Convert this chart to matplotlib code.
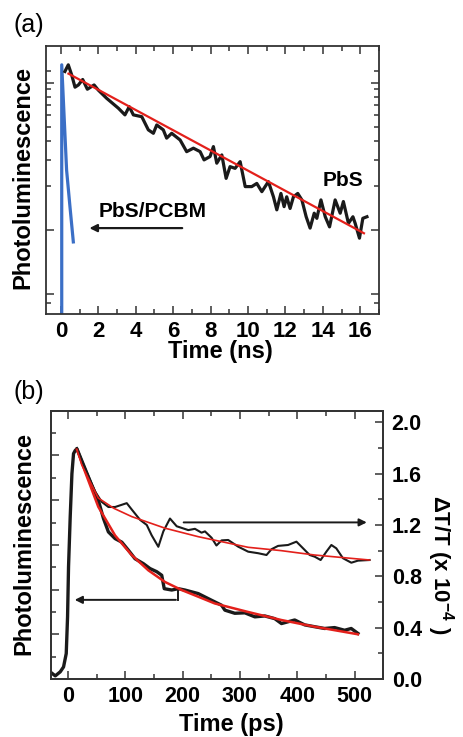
import numpy as np
import matplotlib
matplotlib.use("Agg")
import matplotlib.pyplot as plt
from matplotlib.ticker import MultipleLocator, FixedLocator, NullFormatter

plt.rcParams['font.family'] = ['Liberation Sans', 'DejaVu Sans']
plt.rcParams['mathtext.fontset'] = 'custom'
plt.rcParams['mathtext.rm'] = 'Liberation Sans:bold'
plt.rcParams['mathtext.default'] = 'rm'

# (a) PbS PL decay (ns, log scale)
pbs_t = [0.21, 0.39, 0.57, 0.75, 0.93, 1.16, 1.41, 1.77, 1.99, 2.44, 3.07, 3.42, 3.65, 3.87, 4.32,
         4.67, 4.94, 5.12, 5.47, 5.65, 5.92, 6.37, 6.72, 7.08, 7.44, 7.65, 7.97, 8.15, 8.33, 8.60,
         8.83, 9.04, 9.31, 9.58, 9.85, 10.2, 10.47, 10.74, 11.09, 11.36, 11.54, 11.76, 11.93, 12.07,
         12.25, 12.43, 12.66, 12.88, 13.11, 13.32, 13.54, 13.68, 13.9, 14.13, 14.36, 14.66, 14.93,
         15.1, 15.37, 15.61, 15.73, 15.96, 16.14, 16.36]
pbs_pl = [11.9, 13.2, 11.3, 9.31, 9.64, 10.5, 9.02, 9.64, 8.91, 7.83, 6.70, 6.04, 6.87, 6.04, 5.87,
          4.78, 4.53, 5.16, 4.78, 4.20, 4.53, 4.08, 3.40, 3.59, 3.40, 2.99, 3.15, 3.68, 2.84, 3.23,
          2.24, 2.69, 2.62, 2.91, 1.97, 1.97, 2.07, 1.82, 2.13, 1.68, 1.37, 1.77, 1.44, 1.68,
          1.40, 1.68, 1.77, 1.60, 1.23, 1.03, 1.30, 1.20, 1.60, 1.23, 1.05, 1.60, 1.30,
          1.56, 1.11, 1.23, 1.11, 0.88, 1.20, 1.23]
pbs_fit_t = [0.4, 16.2]
pbs_fit_pl = [11.5, 0.95]
pcbm_t = [0.04, 0.04, 0.30, 0.48, 0.66]
pcbm_pl = [0.2, 13.2, 2.55, 1.44, 0.83]

# (b) PL (left axis) and transient absorption (right axis), ps
pl_t = [-28, -22, -13.4, -7.6, -2.9, -0.6, 1.1, 4, 7, 9.8, 12.7, 15.7, 30, 41.7, 53,
        62, 70.6, 82.3, 94, 105.5, 117, 131.6, 143.2, 154.9, 163.6, 168, 181, 192.5, 204, 227.3,
        250.6, 268, 273.7, 291, 308.5, 326, 343.3, 360.7, 372.4, 395.5, 413, 430, 447.7, 465, 482.5,
        494, 505.7]
pl_val = [0.13, 0.07, 0.16, 0.27, 0.57, 1.39, 2.51, 3.62, 4.59, 5.04, 5.11, 5.15, 4.70, 4.33, 4.0,
          3.59, 3.29, 3.14, 3.06, 2.88, 2.69, 2.58, 2.47, 2.40, 2.32, 2.02, 1.99, 2.02, 1.99, 1.91,
          1.76, 1.65, 1.54, 1.47, 1.48, 1.39, 1.41, 1.35, 1.24, 1.32, 1.21, 1.17, 1.13, 1.15, 1.09,
          1.13, 1.02]
pl_fit_t = [15.7, 30, 53, 82.3, 111.4, 140.3, 169.3, 198.3, 227.3, 256, 314, 372, 430, 505.7]
pl_fit_val = [5.14, 4.63, 3.85, 3.21, 2.77, 2.43, 2.17, 1.99, 1.84, 1.69, 1.50, 1.32, 1.17, 1.0]

ta_t = [15.7, 30, 47.5, 59, 70.6, 82.3, 102.6, 111.4, 125.8, 137.5, 146, 157.7, 166.4, 178, 189.7,
        209.9, 221.5, 233, 239, 250.6, 259, 268, 279.5, 296.9, 314.3, 331.7, 346.3, 355, 366.5, 383.9,
        398.5, 407.2, 421.6, 430.3, 440.7, 450.7, 459.4, 468, 479.6, 494.2, 505.7, 526]
ta_val = [1.80, 1.64, 1.46, 1.38, 1.34, 1.34, 1.37, 1.32, 1.24, 1.20, 1.12, 1.03, 1.15, 1.25, 1.19,
          1.16, 1.17, 1.14, 1.15, 1.10, 1.04, 1.08, 1.083, 1.031, 0.992, 0.98, 0.966, 1.011, 1.037, 1.044,
          1.07, 1.031, 0.966, 0.953, 0.927, 0.992, 1.044, 1.018, 0.941, 0.906, 0.922, 0.927]
ta_fit_t = [15.7, 24, 36, 53, 80, 111.4, 169.3, 227, 268, 314.3, 372, 430, 526]
ta_fit_val = [1.79, 1.67, 1.56, 1.41, 1.33, 1.265, 1.175, 1.109, 1.07, 1.026, 1.0, 0.966, 0.927]

RED = '#e3201b'
BLUE = '#3b6fc6'
INK = '#1a1a1a'

fig = plt.figure(figsize=(4.63, 7.37), dpi=100)

def style_ticks(ax):
    ax.tick_params(which='both', direction='in', width=1.1, color='#333333')
    ax.tick_params(which='major', length=6)
    ax.tick_params(which='minor', length=3.5)
    for s in ax.spines.values():
        s.set_linewidth(1.3)
        s.set_color('#333333')

# ---- panel (a)
ax1 = fig.add_axes([0.0994, 0.5739, 0.719, 0.3636])
ax1.set_yscale('log')
ax1.plot(pcbm_t, pcbm_pl, color=BLUE, lw=2.3, zorder=2)
ax1.plot(pbs_t, pbs_pl, color=INK, lw=2.3, zorder=3)
ax1.plot(pbs_fit_t, pbs_fit_pl, color=RED, lw=1.6, zorder=4)
ax1.set_xlim(-0.8, 17.0)
ax1.set_ylim(0.269, 17.7)
ax1.xaxis.set_major_locator(MultipleLocator(2))
ax1.xaxis.set_minor_locator(MultipleLocator(1))
ax1.yaxis.set_major_locator(FixedLocator([0.368, 1, 10]))
ax1.yaxis.set_minor_locator(FixedLocator([0.318, 2, 3, 4, 5, 6, 7, 8, 9, 12]))
ax1.yaxis.set_major_formatter(NullFormatter())
ax1.yaxis.set_minor_formatter(NullFormatter())
ax1.tick_params(which='both', top=True, right=True)
style_ticks(ax1)
ax1.tick_params(axis='x', labelsize=16, pad=5)
for lab in ax1.get_xticklabels():
    lab.set_fontweight('bold')
ax1.text(15.1, 2.18, 'PbS', fontsize=15, fontweight='bold', ha='center', va='center')
ax1.text(4.9, 1.33, 'PbS/PCBM', fontsize=15, fontweight='bold', ha='center', va='center')
ax1.annotate('', xy=(1.37, 1.03), xytext=(6.63, 1.03),
             arrowprops=dict(arrowstyle='-|>', lw=1.6, color=INK, mutation_scale=11))

# ---- panel (b)
ax2 = fig.add_axes([0.1095, 0.0787, 0.7184, 0.364])
ax3 = ax2.twinx()
ax2.plot(pl_t, pl_val, color=INK, lw=2.4, zorder=3)
ax2.plot(pl_fit_t, pl_fit_val, color=RED, lw=1.8, zorder=4)
ax3.plot(ta_t, ta_val, color=INK, lw=1.5, zorder=3)
ax3.plot(ta_fit_t, ta_fit_val, color=RED, lw=1.2, zorder=4)
ax2.set_xlim(-30, 550)
ax2.set_ylim(0, 6.0)
ax3.set_ylim(0, 2.09)
ax2.xaxis.set_major_locator(MultipleLocator(100))
ax2.xaxis.set_minor_locator(MultipleLocator(50))
ax2.yaxis.set_major_locator(MultipleLocator(1))
ax2.yaxis.set_minor_locator(MultipleLocator(0.5))
ax2.yaxis.set_major_formatter(NullFormatter())
ax3.yaxis.set_major_locator(MultipleLocator(0.4))
ax3.yaxis.set_minor_locator(MultipleLocator(0.2))
ax3.yaxis.set_major_formatter(plt.FuncFormatter(lambda v, p: f'{v:.1f}'))
ax2.tick_params(which='both', top=True, right=False)
style_ticks(ax2)
style_ticks(ax3)
ax2.tick_params(axis='x', labelsize=15.5, pad=5)
ax3.tick_params(axis='y', labelsize=15.5, pad=6)
for lab in ax2.get_xticklabels() + ax3.get_yticklabels():
    lab.set_fontweight('bold')

ax3.annotate('', xy=(526, 1.22), xytext=(197, 1.22),
             arrowprops=dict(arrowstyle='-|>', lw=1.4, color=INK, mutation_scale=11))
ax2.plot([192.6, 192.6], [1.96, 1.77], color=INK, lw=1.4)
ax2.annotate('', xy=(7, 1.77), xytext=(193.2, 1.77),
             arrowprops=dict(arrowstyle='-|>', lw=1.4, color=INK, mutation_scale=11))

# labels
fig.text(0.0486, 0.7585, 'Photoluminescence', rotation=90, ha='center', va='center',
         fontsize=17, fontweight='bold')
fig.text(0.475, 0.5224, 'Time (ns)', ha='center', va='center', fontsize=17, fontweight='bold')
fig.text(0.0518, 0.2625, 'Photoluminescence', rotation=90, ha='center', va='center',
         fontsize=17, fontweight='bold')
fig.text(0.5004, 0.0163, 'Time (ps)', ha='center', va='center', fontsize=17, fontweight='bold')
fig.text(0.952, 0.2334, r'ΔT/T (x 10$^{-4}$ )', rotation=270, ha='center', va='center',
         fontsize=16, fontweight='bold')
fig.text(0.0626, 0.966, '(a)', ha='center', va='center', fontsize=18)
fig.text(0.0626, 0.4685, '(b)', ha='center', va='center', fontsize=18)

fig.savefig('out.png', dpi=100)
